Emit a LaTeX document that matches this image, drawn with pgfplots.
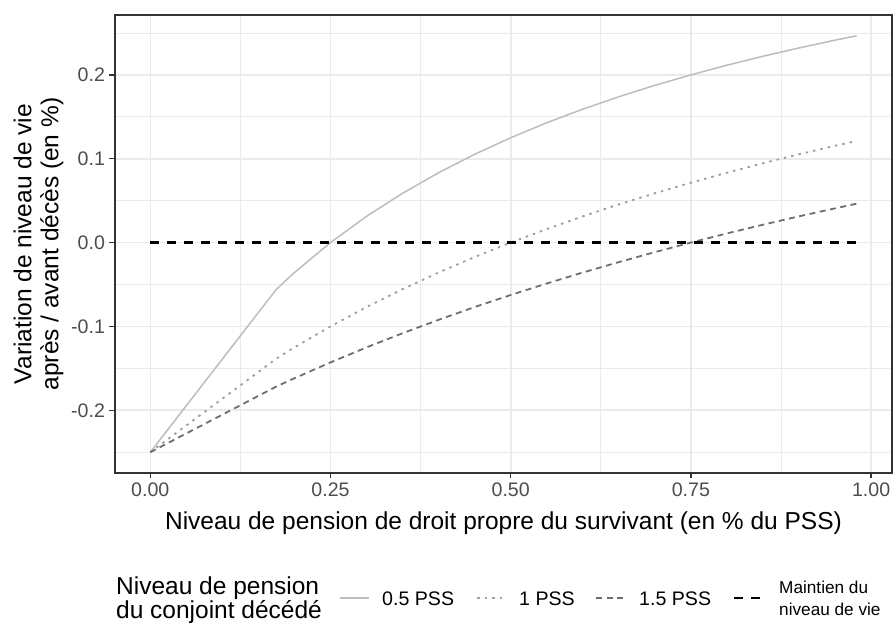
\documentclass[border=0pt]{standalone}
\usepackage{fontspec}
\setmainfont{Liberation Sans}
\usepackage{pgfplots}
\pgfplotsset{compat=1.18}
\definecolor{gridc}{HTML}{EBEBEB}
\definecolor{bordc}{HTML}{333333}
\definecolor{tickc}{HTML}{4D4D4D}
\definecolor{cA}{HTML}{BDBDBD}
\definecolor{cB}{HTML}{9E9E9E}
\definecolor{cC}{HTML}{6E6E6E}
\begin{document}
\begin{tikzpicture}[x=1pt,y=1pt]
\path[use as bounding box] (0,0) rectangle (895,626);
\begin{axis}[
  at={(115pt,153pt)}, anchor=south west,
  width=777pt, height=458pt, scale only axis,
  xmin=-0.049, xmax=1.029, ymin=-0.2748, ymax=0.2714,
  xtick={0,0.25,0.5,0.75,1},
  xticklabels={0.00,0.25,0.50,0.75,1.00},
  ytick={-0.2,-0.1,0,0.1,0.2},
  yticklabels={-0.2,-0.1,0.0,0.1,0.2},
  minor xtick={0.125,0.375,0.625,0.875},
  minor ytick={-0.25,-0.15,-0.05,0.05,0.15,0.25},
  grid=both,
  major grid style={gridc, line width=1.6pt},
  minor grid style={gridc, line width=0.8pt},
  axis line style={bordc, line width=1.3pt},
  tick align=outside,
  major tick length=5.5pt,
  minor tick length=0pt,
  major tick style={bordc, line width=1.3pt},
  xtick pos=bottom, ytick pos=left,
  ticklabel style={font=\fontsize{19.6}{22}\selectfont, text=tickc},
  xticklabel style={yshift=-1pt},
  yticklabel style={xshift=-1pt},
  xlabel={Niveau de pension de droit propre du survivant (en \% du PSS)},
  xlabel style={font=\fontsize{24.5}{28}\selectfont, at={(axis description cs:0.5,0)}, anchor=center, yshift=-50pt},
  ylabel={Variation de niveau de vie\\après / avant décès (en \%)},
  ylabel style={font=\fontsize{24.5}{27}\selectfont, align=center, at={(axis description cs:-0.0985,0.5)}, anchor=center},
  clip=false,
]
\addplot[cA, line width=1.5pt] coordinates {
(0,-0.25) (0.175,-0.0556) (0.2,-0.0357) (0.25,0) (0.3,0.0313) (0.35,0.0588)
(0.4,0.0833) (0.45,0.1053) (0.5,0.125) (0.55,0.1429) (0.6,0.1591) (0.65,0.1739)
(0.7,0.1875) (0.75,0.2) (0.8,0.2115) (0.85,0.2222) (0.9,0.2321) (0.95,0.2414) (0.98,0.2466)
};
\addplot[cB, line width=1.8pt, dash pattern=on 2.5pt off 5pt] coordinates {
(0,-0.25) (0.175,-0.1383) (0.2,-0.125) (0.25,-0.1) (0.3,-0.0769) (0.35,-0.0556)
(0.4,-0.0357) (0.45,-0.0172) (0.5,0) (0.55,0.0161) (0.6,0.0313) (0.65,0.0455)
(0.7,0.0588) (0.75,0.0714) (0.8,0.0833) (0.85,0.0946) (0.9,0.1053) (0.95,0.1154) (0.98,0.1212)
};
\addplot[cC, line width=1.8pt, dash pattern=on 6pt off 4.5pt] coordinates {
(0,-0.25) (0.175,-0.1716) (0.2,-0.1618) (0.25,-0.1429) (0.3,-0.125) (0.35,-0.1081)
(0.4,-0.0921) (0.45,-0.0769) (0.5,-0.0625) (0.55,-0.0488) (0.6,-0.0357) (0.65,-0.0233)
(0.7,-0.0114) (0.75,0) (0.8,0.0109) (0.85,0.0213) (0.9,0.0313) (0.95,0.0408) (0.98,0.0464)
};
\addplot[black, line width=2.5pt, dash pattern=on 8.5pt off 8.5pt] coordinates {(0,0) (0.98,0)};
\end{axis}
% legend
\node[anchor=west, align=left, font=\fontsize{24.5}{24}\selectfont, inner sep=0pt] at (116,26) {Niveau de pension\\du conjoint décédé};
\draw[cA, line width=1.5pt] (340,28) -- (369,28);
\node[anchor=west, font=\fontsize{19.6}{22}\selectfont, inner sep=0pt] at (382,27) {0.5 PSS};
\draw[cB, line width=1.8pt, dash pattern=on 2.5pt off 5pt] (477,28) -- (506,28);
\node[anchor=west, font=\fontsize{19.6}{22}\selectfont, inner sep=0pt] at (519,27) {1 PSS};
\draw[cC, line width=1.8pt, dash pattern=on 6pt off 4.5pt] (596,28) -- (626,28);
\node[anchor=west, font=\fontsize{19.6}{22}\selectfont, inner sep=0pt] at (639,27) {1.5 PSS};
\draw[black, line width=2.5pt, dash pattern=on 8.5pt off 8.5pt] (734,28) -- (761,28);
\node[anchor=west, align=left, font=\fontsize{17.2}{22}\selectfont, inner sep=0pt] at (779,28) {Maintien du\\niveau de vie};
\end{tikzpicture}
\end{document}
